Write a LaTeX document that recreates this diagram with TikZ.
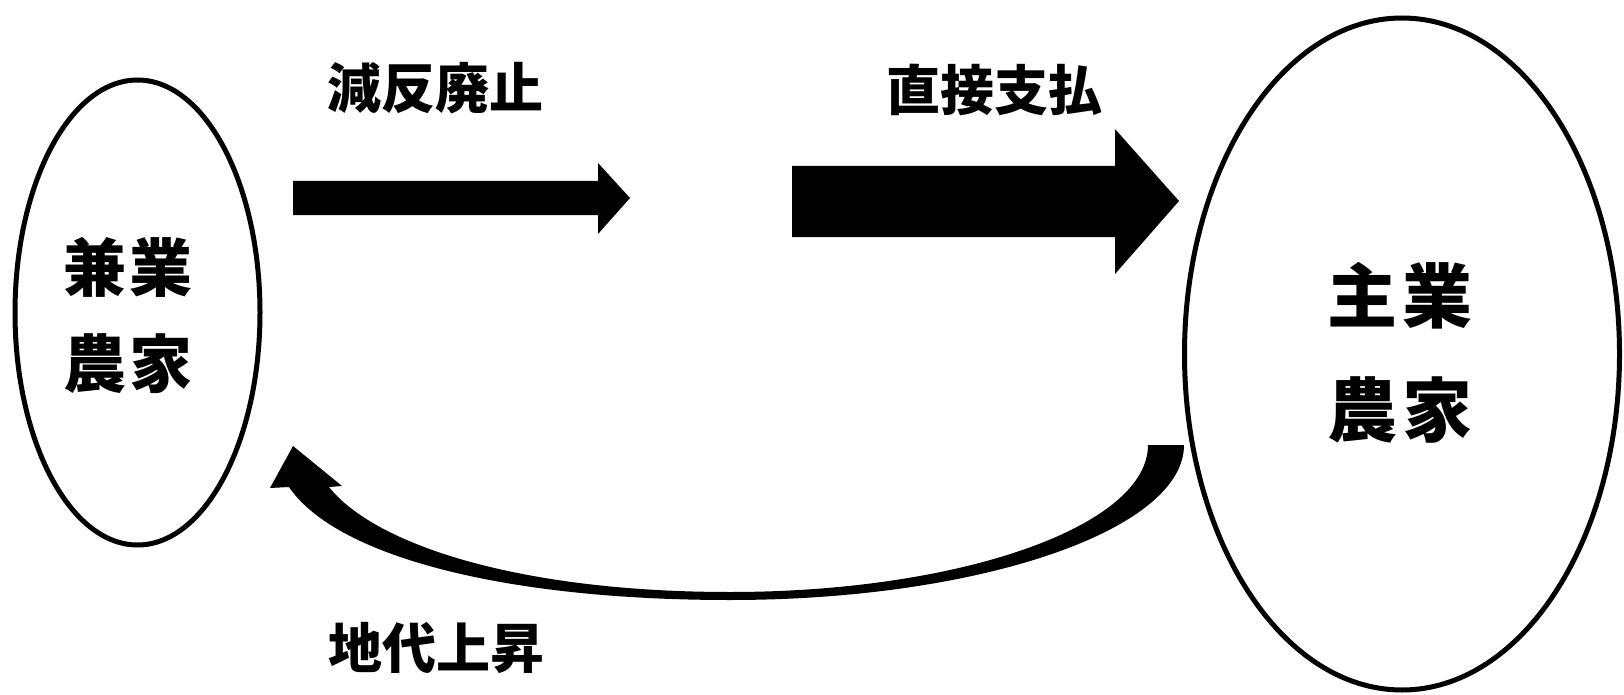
\documentclass[tikz,border=0pt]{standalone}
\usepackage{fontspec}
\newfontfamily\jp{Noto Sans CJK JP}
\usetikzlibrary{shapes.geometric}
\tikzset{
  farm/.style={draw=black, ellipse, line width=5pt, inner sep=0pt},
  lbl/.style={inner sep=0pt, font=\jp\bfseries\fontsize{54}{60}\selectfont},
  blockarrow/.style={fill=black, draw=none},
}
\begin{document}
\begin{tikzpicture}[x=1pt,y=-1pt]
\useasboundingbox (0,0) rectangle (1624,695);
% farms
\node[farm, minimum width=245pt, minimum height=465pt] (kengyo) at (137.5,312.5) {};
\node[inner sep=0pt, align=center, font=\jp\bfseries\fontsize{63}{96}\selectfont] (kengyoT) at (128,316) {兼\hspace{4pt}業\\農\hspace{4pt}家};
\node[farm, minimum width=435pt, minimum height=672pt] (shugyo) at (1402,354) {};
\node[inner sep=0pt, align=center, font=\jp\bfseries\fontsize{70}{114}\selectfont] (shugyoT) at (1400,353) {主\hspace{6pt}業\\農\hspace{6pt}家};
% labels
\node[lbl] (genhan) at (435,88) {減反廃止};
\node[lbl] (chokusetsu) at (994,90) {直接支払};
\node[lbl] (chidai) at (436,648) {地代上昇};
% straight block arrows
\fill[blockarrow] (293,181) -- (598,181) -- (598,163) -- (630,198) -- (598,234) -- (598,215) -- (293,215) -- cycle;
\fill[blockarrow] (792,166) -- (1115,166) -- (1115,129) -- (1179,201) -- (1115,274) -- (1115,237) -- (792,237) -- cycle;
% curved arrow from shugyo back to kengyo
\fill[blockarrow, line join=round]
  (1184,445) .. controls (1184,530) and (980,600) .. (730,600)
  .. controls (500,600) and (335,555) .. (289,487)
  -- (270,488) -- (293,446) -- (342,486) -- (329,487)
  .. controls (375,545) and (520,592) .. (730,592)
  .. controls (961,592) and (1148,526) .. (1148,445) -- cycle;
\end{tikzpicture}
\end{document}
